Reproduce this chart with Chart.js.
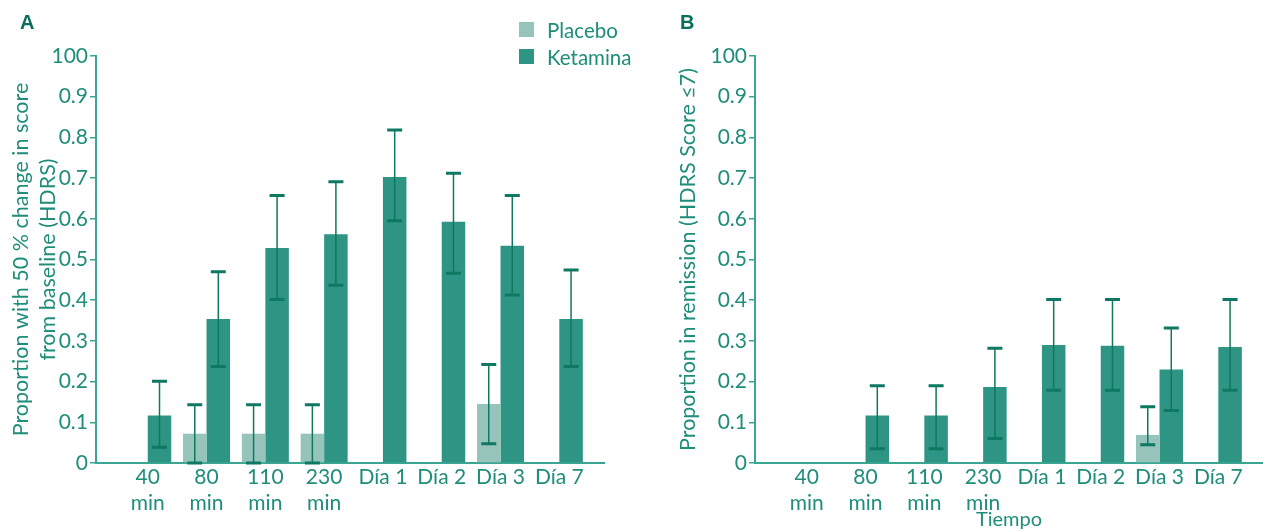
<!DOCTYPE html>
<html>
<head>
<meta charset="utf-8">
<script src="https://cdn.jsdelivr.net/npm/chart.js@4.4.1/dist/chart.umd.min.js"></script>
<style>
  body { margin: 0; background: #fff; }
  #wrap { position: relative; width: 1263px; height: 532px; overflow: hidden; font-family: Lato, sans-serif; color: #1e8d7a; }
  #chartA { position: absolute; left: 0; top: 0; }
  #chartB { position: absolute; left: 640px; top: 0; }
  .panel { position: absolute; top: 11px; font: bold 20px "Liberation Sans Narrow", "Liberation Sans", sans-serif; color: #0b6f5c; }
  #legend { position: absolute; left: 519px; top: 16px; }
  .item { display: flex; align-items: center; height: 27px; font-size: 20.5px; }
  .box { width: 15px; height: 15px; margin-right: 13px; }
</style>
</head>
<body>
<div id="wrap">
  <canvas id="chartA" width="640" height="532"></canvas>
  <canvas id="chartB" width="623" height="532"></canvas>
  <div class="panel" style="left:20px">A</div>
  <div class="panel" style="left:680px">B</div>
  <div id="legend"></div>
</div>
<script>
const categories = [['40', 'min'], ['80', 'min'], ['110', 'min'], ['230', 'min'], 'Día 1', 'Día 2', 'Día 3', 'Día 7'];
const yTickLabels = ['0', '0.1', '0.2', '0.3', '0.4', '0.5', '0.6', '0.7', '0.8', '0.9', '100'];

// panel A: proportion with 50 % change
const placeboA = [null, 0.072, 0.072, 0.072, null, null, 0.145, null];
const placeboALow = [null, 0, 0, 0, null, null, 0.047, null];
const placeboAHigh = [null, 0.143, 0.143, 0.143, null, null, 0.242, null];
const ketaminaA = [0.117, 0.354, 0.528, 0.562, 0.703, 0.593, 0.534, 0.354];
const ketaminaALow = [0.039, 0.237, 0.402, 0.437, 0.595, 0.466, 0.413, 0.237];
const ketaminaAHigh = [0.201, 0.47, 0.657, 0.691, 0.818, 0.712, 0.657, 0.474];

// panel B: proportion in remission
const placeboB = [null, null, null, null, null, null, 0.069, null];
const placeboBLow = [null, null, null, null, null, null, 0.045, null];
const placeboBHigh = [null, null, null, null, null, null, 0.138, null];
const ketaminaB = [null, 0.117, 0.117, 0.187, 0.29, 0.288, 0.23, 0.285];
const ketaminaBLow = [null, 0.035, 0.035, 0.06, 0.179, 0.179, 0.129, 0.179];
const ketaminaBHigh = [null, 0.19, 0.19, 0.282, 0.402, 0.402, 0.332, 0.402];

const textColor = '#1e8d7a';
const axisColor = '#3ba593';
const errorColor = '#0e7863';
const placeboColor = '#96c4ba';
const ketaminaColor = '#2e9584';

const errorBars = {
  id: 'errorBars',
  afterDatasetsDraw(chart) {
    const { ctx } = chart;
    const yScale = chart.scales.y;
    chart.data.datasets.forEach((ds, di) => {
      const meta = chart.getDatasetMeta(di);
      meta.data.forEach((bar, i) => {
        const lo = ds.errLow[i];
        const hi = ds.errHigh[i];
        if (lo == null || hi == null) return;
        const x = bar.x;
        const yLo = yScale.getPixelForValue(lo);
        const yHi = yScale.getPixelForValue(hi);
        ctx.save();
        ctx.strokeStyle = errorColor;
        ctx.lineWidth = 1.5;
        ctx.beginPath();
        ctx.moveTo(x, yLo);
        ctx.lineTo(x, yHi);
        ctx.stroke();
        ctx.lineWidth = 3;
        ctx.beginPath();
        ctx.moveTo(x - 7.5, yHi);
        ctx.lineTo(x + 7.5, yHi);
        ctx.moveTo(x - 7.5, yLo);
        ctx.lineTo(x + 7.5, yLo);
        ctx.stroke();
        ctx.restore();
      });
    });
  }
};

function toPoints(values) {
  return values.map((v, i) => ({ x: i + 1, y: v }));
}

function buildChart(id, series, yTitle, yTitlePad, yWidth, xTitle, padRight) {
  return new Chart(document.getElementById(id), {
    type: 'bar',
    data: {
      datasets: [
        {
          label: 'Placebo',
          data: toPoints(series.placebo),
          errLow: series.placeboLow,
          errHigh: series.placeboHigh,
          backgroundColor: placeboColor
        },
        {
          label: 'Ketamina',
          data: toPoints(series.ketamina),
          errLow: series.ketaminaLow,
          errHigh: series.ketaminaHigh,
          backgroundColor: ketaminaColor
        }
      ]
    },
    options: {
      responsive: false,
      animation: false,
      categoryPercentage: 0.8,
      barPercentage: 1,
      layout: { padding: { top: 56, right: padRight, left: 0, bottom: 0 } },
      plugins: {
        legend: { display: false },
        tooltip: { enabled: false }
      },
      scales: {
        x: {
          type: 'linear',
          offset: false,
          min: 0.12,
          max: 8.76,
          afterBuildTicks: (scale) => {
            scale.ticks = categories.map((c, i) => ({ value: i + 1 }));
          },
          afterFit: (scale) => { scale.height = 69; },
          grid: { display: false, drawTicks: false, offset: false },
          border: { color: axisColor, width: 2 },
          ticks: {
            autoSkip: false,
            maxRotation: 0,
            padding: 2,
            color: textColor,
            font: { family: 'Lato', size: 21, lineHeight: 1.2 },
            callback: (v) => categories[Math.round(v) - 1]
          },
          title: {
            display: !!xTitle,
            text: xTitle,
            color: textColor,
            padding: 0,
            font: { family: 'Lato', size: 20, lineHeight: 1.2 }
          }
        },
        y: {
          min: 0,
          max: 1,
          afterFit: (scale) => { scale.width = yWidth; },
          grid: { display: true, drawOnChartArea: false, drawTicks: true, tickLength: 6, color: axisColor, lineWidth: 1.5 },
          border: { color: axisColor, width: 2 },
          ticks: {
            stepSize: 0.1,
            padding: 2,
            color: textColor,
            font: { family: 'Lato', size: 21 },
            callback: (v, i) => yTickLabels[i]
          },
          title: {
            display: true,
            text: yTitle,
            color: textColor,
            padding: { top: yTitlePad, bottom: 0 },
            font: { family: 'Lato', size: 21.5, lineHeight: 1.26 }
          }
        }
      }
    },
    plugins: [errorBars]
  });
}

const chartA = buildChart('chartA', {
  placebo: placeboA, placeboLow: placeboALow, placeboHigh: placeboAHigh,
  ketamina: ketaminaA, ketaminaLow: ketaminaALow, ketaminaHigh: ketaminaAHigh
}, ['Proportion with 50 % change in score', 'from baseline (HDRS)'], 7.5, 96, '', 36);

buildChart('chartB', {
  placebo: placeboB, placeboLow: placeboBLow, placeboHigh: placeboBHigh,
  ketamina: ketaminaB, ketaminaLow: ketaminaBLow, ketaminaHigh: ketaminaBHigh
}, 'Proportion in remission (HDRS Score \u22647)', 34.5, 115, 'Tiempo', 0);

document.getElementById('legend').innerHTML = chartA.data.datasets
  .map((ds) => `<div class="item"><span class="box" style="background:${ds.backgroundColor}"></span>${ds.label}</div>`)
  .join('');
</script>
</body>
</html>
